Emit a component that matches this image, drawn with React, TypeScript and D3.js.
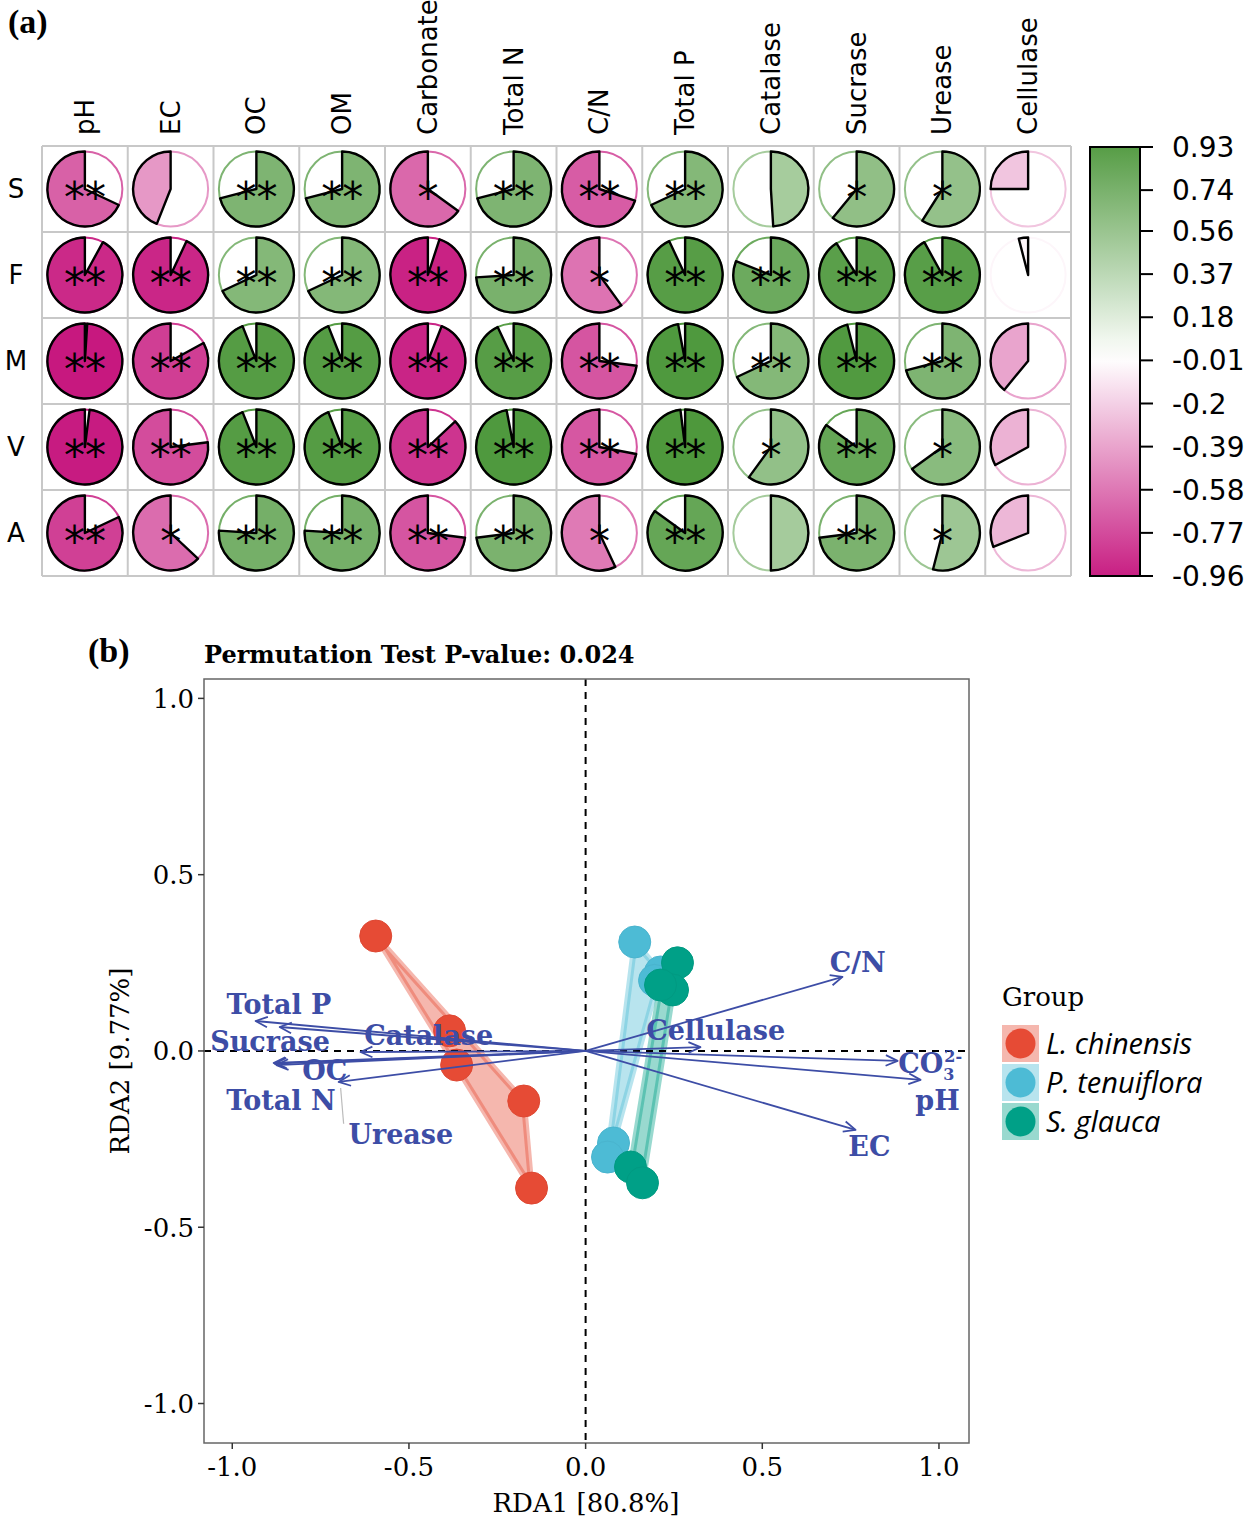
import React from 'react';
import * as d3 from 'd3';

// ---------- Panel (a) data ----------
const rowNames = ['S', 'F', 'M', 'V', 'A'];
const colNames = ['pH', 'EC', 'OC', 'OM', 'Carbonate', 'Total N', 'C/N', 'Total P', 'Catalase', 'Sucrase', 'Urease', 'Cellulase'];
const corrS = [-0.68, -0.44, 0.71, 0.71, -0.65, 0.71, -0.70, 0.68, 0.49, 0.61, 0.59, -0.25];
const corrF = [-0.92, -0.93, 0.68, 0.68, -0.95, 0.74, -0.60, 0.93, 0.81, 0.91, 0.92, -0.04];
const corrM = [-0.99, -0.83, 0.94, 0.94, -0.94, 0.93, -0.73, 0.97, 0.68, 0.96, 0.71, -0.39];
const corrV = [-0.98, -0.77, 0.94, 0.94, -0.87, 0.97, -0.72, 0.98, 0.60, 0.85, 0.65, -0.33];
const corrA = [-0.82, -0.63, 0.76, 0.76, -0.73, 0.73, -0.57, 0.85, 0.50, 0.73, 0.54, -0.31];
const sigS = ['**', '', '**', '**', '*', '**', '**', '**', '', '*', '*', ''];
const sigF = ['**', '**', '**', '**', '**', '**', '*', '**', '**', '**', '**', ''];
const sigM = ['**', '**', '**', '**', '**', '**', '**', '**', '**', '**', '**', ''];
const sigV = ['**', '**', '**', '**', '**', '**', '**', '**', '*', '**', '*', ''];
const sigA = ['**', '*', '**', '**', '**', '**', '*', '**', '', '**', '*', ''];
const colorbarLabels = ['0.93', '0.74', '0.56', '0.37', '0.18', '-0.01', '-0.2', '-0.39', '-0.58', '-0.77', '-0.96'];

// ---------- Panel (b) data ----------
const groupNames = ['L. chinensis', 'P. tenuiflora', 'S. glauca'];
const groupColors = ['#E64B35', '#4DBBD5', '#00A087'];
const lcX = [-0.594, -0.385, -0.365, -0.175, -0.153];
const lcY = [0.326, 0.057, -0.040, -0.142, -0.389];
const ptX = [0.139, 0.212, 0.195, 0.079, 0.062];
const ptY = [0.309, 0.224, 0.200, -0.261, -0.301];
const sgX = [0.260, 0.246, 0.212, 0.127, 0.161];
const sgY = [0.250, 0.173, 0.187, -0.329, -0.374];

const envNames = ['pH', 'EC', 'OC', 'OM', 'CO3', 'Total N', 'C/N', 'Total P', 'Catalase', 'Sucrase', 'Urease', 'Cellulase'];
const envX = [0.948, 0.764, -0.883, -0.880, 0.883, -0.875, 0.727, -0.934, -0.637, -0.866, -0.699, 0.325];
const envY = [-0.082, -0.224, -0.034, -0.036, -0.028, -0.040, 0.210, 0.085, -0.003, 0.068, -0.088, 0.011];
const labX = [0.996, 0.803, -0.738, NaN, 0.975, -0.862, 0.770, -0.868, -0.444, -0.893, -0.523, 0.368];
const labY = [-0.139, -0.270, -0.056, NaN, -0.034, -0.139, 0.252, 0.133, 0.045, 0.028, -0.235, 0.060];

const xTicks = [-1.0, -0.5, 0.0, 0.5, 1.0];
const yTicks = [-1.0, -0.5, 0.0, 0.5, 1.0];

const corrRows = [corrS, corrF, corrM, corrV, corrA];
const sigRows = [sigS, sigF, sigM, sigV, sigA];

const color = d3.scaleLinear<string>().domain([-1, 0, 1]).range(['#C6167E', '#FFFFFF', '#4A9638']).interpolate(d3.interpolateRgb);

const SANS = 'DejaVu Sans, sans-serif';
const SERIF = 'DejaVu Serif, serif';
const ARROW = '#3D4DA6';

function PanelA() {
  const gx0 = 42, gy0 = 146, gx1 = 1071, gy1 = 576;
  const xb = d3.scaleBand().domain(colNames).range([gx0, gx1]);
  const yb = d3.scaleBand().domain(rowNames).range([gy0, gy1]);
  const R = 37.5;
  const arc = d3.arc<any>().innerRadius(0).outerRadius(R);
  const cb = d3.scaleLinear().domain([-0.96, 0.93]).range([576, 147]);
  const stops = d3.range(0, 21).map(i => -0.96 + (1.89 * i) / 20);
  return (
    <g>
      <text x={8} y={33} fontFamily="Liberation Serif, serif" fontWeight="bold" fontSize={34}>(a)</text>
      {colNames.map(c => (
        <text key={c} transform={`translate(${xb(c)! + xb.bandwidth() / 2 + 9},135) rotate(-90)`}
          fontFamily={SANS} fontSize={26} textAnchor="start">{c}</text>
      ))}
      {rowNames.map(r => (
        <text key={r} x={16} y={yb(r)! + yb.bandwidth() / 2} dy="0.36em" fontFamily={SANS} fontSize={26} textAnchor="middle">{r}</text>
      ))}
      {rowNames.map((r, i) => colNames.map((c, j) => {
        const v = corrRows[i][j];
        const cx = xb(c)! + xb.bandwidth() / 2;
        const cy = yb(r)! + yb.bandwidth() / 2;
        const a = 2 * Math.PI * v;
        const path = arc({ startAngle: Math.min(0, a), endAngle: Math.max(0, a) }) as string;
        return (
          <g key={r + c} transform={`translate(${cx},${cy})`}>
            <circle r={R} fill="white" stroke={color(v)} strokeWidth={2} />
            <path d={path} fill={color(v)} stroke="black" strokeWidth={2.4} strokeLinejoin="round" />
            {sigRows[i][j] && (
              <text y={0} dy="0.54em" textAnchor="middle" fontFamily={SANS} fontSize={42} fill="black">{sigRows[i][j]}</text>
            )}
          </g>
        );
      }))}
      {d3.range(0, 13).map(k => {
        const x = gx0 + (k * (gx1 - gx0)) / 12;
        return <line key={'v' + k} x1={x} x2={x} y1={gy0} y2={gy1} stroke="#C8C8C8" strokeWidth={2} />;
      })}
      {d3.range(0, 6).map(k => {
        const y = gy0 + (k * (gy1 - gy0)) / 5;
        return <line key={'h' + k} x1={gx0} x2={gx1} y1={y} y2={y} stroke="#C8C8C8" strokeWidth={2} />;
      })}
      <defs>
        <linearGradient id="cbar" x1="0" y1="1" x2="0" y2="0">
          {stops.map((s, i) => (
            <stop key={i} offset={`${(i / 20) * 100}%`} stopColor={color(s)} />
          ))}
        </linearGradient>
      </defs>
      <rect x={1090} y={147} width={50} height={429} fill="url(#cbar)" stroke="black" strokeWidth={2} />
      {colorbarLabels.map(l => (
        <g key={l}>
          <line x1={1140} x2={1153} y1={cb(+l)} y2={cb(+l)} stroke="black" strokeWidth={2} />
          <text x={1172} y={cb(+l)} dy="0.36em" fontFamily={SANS} fontSize={28}>{l}</text>
        </g>
      ))}
    </g>
  );
}

function PanelB() {
  const x = d3.scaleLinear().domain([-1.08, 1.085]).range([204, 969]);
  const y = d3.scaleLinear().domain([-1.112, 1.055]).range([1443, 679]);
  const groups = [
    lcX.map((v, i) => [v, lcY[i]] as [number, number]),
    ptX.map((v, i) => [v, ptY[i]] as [number, number]),
    sgX.map((v, i) => [v, sgY[i]] as [number, number]),
  ];
  const line = d3.line();
  const head = 13, ang = 0.42;
  return (
    <g>
      <defs>
        <clipPath id="pclip"><rect x={204} y={679} width={765} height={764} /></clipPath>
      </defs>
      <text x={88} y={662} fontFamily="Liberation Serif, serif" fontWeight="bold" fontSize={34}>(b)</text>
      <text x={204} y={663} fontFamily={SERIF} fontWeight="bold" fontSize={24}>Permutation Test P-value: 0.024</text>
      <g clipPath="url(#pclip)">
        {groups.map((pts, gi) => {
          const hull = d3.polygonHull(pts)!;
          const px = hull.map(p => [x(p[0]), y(p[1])] as [number, number]);
          return <path key={gi} d={line(px) + 'Z'} fill={groupColors[gi]} fillOpacity={0.4} stroke={groupColors[gi]} strokeOpacity={0.4} strokeWidth={6} strokeLinejoin="round" />;
        })}
        {groups.map((pts, gi) => pts.map((p, i) => (
          <circle key={gi + '-' + i} cx={x(p[0])} cy={y(p[1])} r={16} fill={groupColors[gi]} stroke={d3.color(groupColors[gi])!.darker(0.1).toString()} strokeWidth={1} />
        )))}
        <line x1={x(0)} x2={x(0)} y1={679} y2={1443} stroke="black" strokeWidth={2} strokeDasharray="7,6" />
        <line x1={204} x2={969} y1={y(0)} y2={y(0)} stroke="black" strokeWidth={2} strokeDasharray="7,6" />
        <line x1={x(envX[10]) + 2} y1={y(envY[10]) + 6} x2={x(envX[10]) + 5} y2={y(labY[10]) - 10} stroke="#BBBBBB" strokeWidth={1.2} />
        {envNames.map((n, i) => {
          const x0 = x(0), y0 = y(0), x1 = x(envX[i]), y1 = y(envY[i]);
          const th = Math.atan2(y1 - y0, x1 - x0);
          const p1 = [x1 - head * Math.cos(th - ang), y1 - head * Math.sin(th - ang)];
          const p2 = [x1 - head * Math.cos(th + ang), y1 - head * Math.sin(th + ang)];
          return (
            <g key={n}>
              <line x1={x0} y1={y0} x2={x1} y2={y1} stroke={ARROW} strokeWidth={1.8} />
              <path d={`M${p1[0]},${p1[1]}L${x1},${y1}L${p2[0]},${p2[1]}`} fill="none" stroke={ARROW} strokeWidth={1.8} strokeLinejoin="round" />
            </g>
          );
        })}
        {envNames.map((n, i) => {
          if (isNaN(labX[i])) return null;
          if (n === 'CO3') {
            return (
              <text key={'l' + n} x={x(labX[i])} y={y(labY[i])} dy="0.36em" textAnchor="middle" fontFamily={SERIF} fontWeight="bold" fontSize={27} fill={ARROW}>
                CO<tspan fontSize={16} dy={7}>3</tspan><tspan fontSize={16} dx={-10} dy={-18}>2-</tspan>
              </text>
            );
          }
          return (
            <text key={'l' + n} x={x(labX[i])} y={y(labY[i])} dy="0.36em" textAnchor="middle" fontFamily={SERIF} fontWeight="bold" fontSize={27} fill={ARROW}>{n}</text>
          );
        })}
      </g>
      <rect x={204} y={679} width={765} height={764} fill="none" stroke="#666" strokeWidth={1.5} />
      {xTicks.map(t => (
        <g key={'x' + t}>
          <line x1={x(t)} x2={x(t)} y1={1443} y2={1449} stroke="#333" strokeWidth={1.5} />
          <text x={x(t)} y={1467} dy="0.36em" textAnchor="middle" fontFamily={SERIF} fontSize={26}>{t.toFixed(1)}</text>
        </g>
      ))}
      {yTicks.map(t => (
        <g key={'y' + t}>
          <line x1={198} x2={204} y1={y(t)} y2={y(t)} stroke="#333" strokeWidth={1.5} />
          <text x={194} y={y(t)} dy="0.36em" textAnchor="end" fontFamily={SERIF} fontSize={26}>{t.toFixed(1)}</text>
        </g>
      ))}
      <text x={586} y={1503} dy="0.36em" textAnchor="middle" fontFamily={SERIF} fontSize={26}>RDA1 [80.8%]</text>
      <text transform={`translate(120,1061) rotate(-90)`} dy="0.36em" textAnchor="middle" fontFamily={SERIF} fontSize={26}>RDA2 [9.77%]</text>
      <text x={1002} y={1006} fontFamily={SERIF} fontSize={26}>Group</text>
      {groupNames.map((g, i) => {
        const ky = 1025 + i * 39;
        return (
          <g key={g}>
            <rect x={1002} y={ky} width={37} height={37} fill={groupColors[i]} fillOpacity={0.4} />
            <circle cx={1020.5} cy={ky + 18.5} r={15} fill={groupColors[i]} />
            <text x={1046} y={ky + 18.5} dy="0.36em" fontFamily="Open Sans, sans-serif" fontStyle="italic" fontSize={29}>{g}</text>
          </g>
        );
      })}
    </g>
  );
}

export default function App() {
  return (
    <svg width={1255} height={1523} style={{ position: 'absolute', left: 0, top: 0, background: 'white' }}>
      <rect width={1255} height={1523} fill="white" />
      <PanelA />
      <PanelB />
    </svg>
  );
}
